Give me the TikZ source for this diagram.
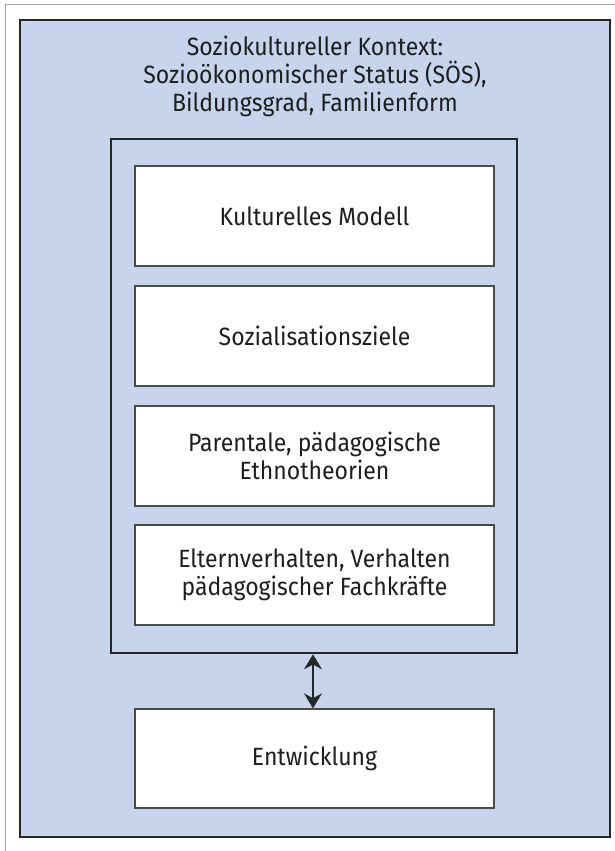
\documentclass[tikz,border=0pt]{standalone}
\usepackage{fontspec}
\setmainfont{Fira Sans}[FakeStretch=0.92]
\usetikzlibrary{arrows.meta}
\definecolor{bluebg}{HTML}{C6D4EC}
\definecolor{framecol}{HTML}{262626}
\definecolor{boxcol}{HTML}{4A4A4A}
\definecolor{txtcol}{HTML}{1E1E1E}
\tikzset{
  txt/.style={text=txtcol, font=\fontsize{25}{28}\selectfont, align=center},
  ctxframe/.style={draw=framecol, line width=2.2pt, fill=bluebg, minimum width=590pt, minimum height=817pt, inner sep=0pt},
  innerframe/.style={draw=framecol, line width=2.6pt, fill=bluebg, minimum width=406pt, minimum height=514pt, inner sep=0pt},
  whitebox/.style={txt, draw=boxcol, line width=1.3pt, fill=white, minimum width=359pt, minimum height=100pt, inner sep=0pt},
  dblarrow/.style={{Stealth[length=15pt,width=18pt]}-{Stealth[length=15pt,width=18pt]}, line width=1.4pt, draw=framecol},
}
\begin{document}
\begin{tikzpicture}[x=1pt,y=-1pt]
\useasboundingbox (0,0) rectangle (615,851);
\fill[white] (0,0) rectangle (615,851);
\draw[gray!70, line width=1pt] (5,851) -- (5,5) -- (615,5);
\node[ctxframe] (ctx) at (315,428.5) {};
\node[txt] (title) at (315,76) {Soziokultureller Kontext:\\Sozioökonomischer Status (SÖS),\\Bildungsgrad, Familienform};
\node[innerframe] (inner) at (314,396) {};
\node[whitebox] (b1) at (314.5,216) {Kulturelles Modell};
\node[whitebox] (b2) at (314.5,336) {Sozialisationsziele};
\node[whitebox] (b3) at (314.5,456) {Parentale, pädagogische\\Ethnotheorien};
\node[whitebox] (b4) at (314.5,575) {Elternverhalten, Verhalten\\pädagogischer Fachkräfte};
\node[whitebox, minimum height=99pt] (b5) at (314.5,758.5) {Entwicklung};
\draw[dblarrow] (inner.south -| 313,0) -- (b5.north -| 313,0);
\end{tikzpicture}
\end{document}
